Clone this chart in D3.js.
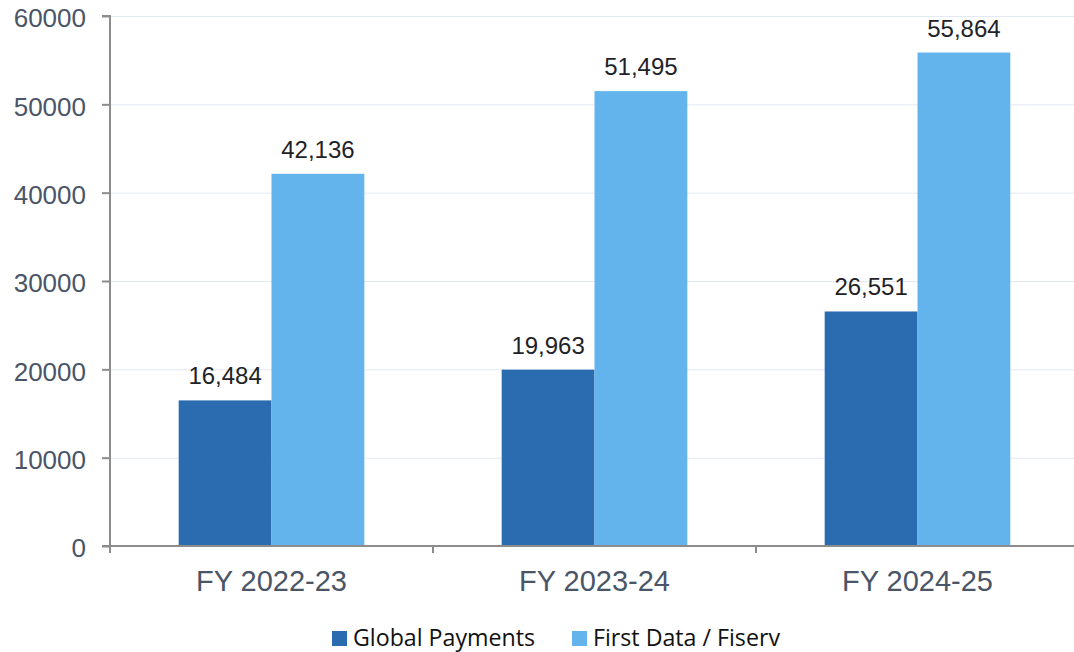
<!DOCTYPE html>
<html>
<head>
<meta charset="utf-8">
<script src="https://cdn.jsdelivr.net/npm/d3@7"></script>
<style>
  body { margin: 0; background: #fff; }
  svg { display: block; }
</style>
</head>
<body>
<div id="chart"></div>
<script>
var years = ["FY 2022-23", "FY 2023-24", "FY 2024-25"];
var seriesNames = ["Global Payments", "First Data / Fiserv"];
var globalPayments = [16484, 19963, 26551];
var firstData = [42136, 51495, 55864];
var yTicks = [0, 10000, 20000, 30000, 40000, 50000, 60000];
var colors = ["#2b6cb0", "#63b3ed"];

var width = 1074, height = 652;
var margin = {top: 16, right: -5, bottom: 106, left: 110};
var sansFont = "'Liberation Sans', Arial, sans-serif";

var svg = d3.select("#chart").append("svg")
  .attr("width", width)
  .attr("height", height);

var x = d3.scaleBand()
  .domain(years)
  .range([margin.left, width - margin.right]);

var x1 = d3.scaleBand()
  .domain(seriesNames)
  .range([0, x.bandwidth()])
  .paddingOuter(0.74);

var y = d3.scaleLinear()
  .domain([0, 60000])
  .range([height - margin.bottom, margin.top]);

// gridlines
svg.append("g")
  .selectAll("line")
  .data(yTicks.slice(1))
  .join("line")
    .attr("x1", margin.left)
    .attr("x2", width)
    .attr("y1", d => y(d) + 0.5)
    .attr("y2", d => y(d) + 0.5)
    .attr("stroke", "#e3e9f2")
    .attr("stroke-width", 1);

var rows = years.map(function(yr, i) {
  return {year: yr, values: [globalPayments[i], firstData[i]]};
});

var groups = svg.append("g")
  .selectAll("g")
  .data(rows)
  .join("g")
    .attr("transform", d => "translate(" + x(d.year) + ",0)");

groups.selectAll("rect")
  .data(d => d.values.map((v, j) => ({name: seriesNames[j], value: v, j: j})))
  .join("rect")
    .attr("x", d => x1(d.name))
    .attr("width", x1.bandwidth())
    .attr("y", d => y(d.value))
    .attr("height", d => y(0) - y(d.value))
    .attr("fill", d => colors[d.j]);

groups.selectAll("text")
  .data(d => d.values.map((v, j) => ({name: seriesNames[j], value: v})))
  .join("text")
    .attr("x", d => x1(d.name) + x1.bandwidth() / 2)
    .attr("y", d => y(d.value) - 16)
    .attr("text-anchor", "middle")
    .attr("font-family", sansFont)
    .attr("font-size", 24)
    .attr("fill", "#1f2328")
    .text(d => d3.format(",")(d.value));

// y axis
var yAxis = svg.append("g")
  .attr("transform", "translate(" + margin.left + ",0)")
  .call(d3.axisLeft(y).tickValues(yTicks).tickFormat(d3.format("d")).tickSize(8).tickPadding(16));
yAxis.select(".domain").attr("stroke", "#8c8c8c").attr("stroke-width", 2)
  .attr("d", "M-8," + y(60000) + "H0V" + y(0));
yAxis.selectAll(".tick line").attr("stroke", "#8c8c8c").attr("stroke-width", 2);
yAxis.selectAll(".tick text")
  .attr("font-family", sansFont)
  .attr("font-size", 26)
  .attr("dy", "0.42em")
  .attr("fill", "#4a5568");

// x axis
var xAxis = svg.append("g")
  .attr("transform", "translate(0," + y(0) + ")");
xAxis.append("line")
  .attr("x1", margin.left - 8)
  .attr("x2", width)
  .attr("stroke", "#8c8c8c")
  .attr("stroke-width", 2);
xAxis.selectAll(".xtick")
  .data([0, 1, 2, 3])
  .join("line")
    .attr("class", "xtick")
    .attr("x1", d => margin.left + x.step() * d)
    .attr("x2", d => margin.left + x.step() * d)
    .attr("y1", 0)
    .attr("y2", 7)
    .attr("stroke", "#8c8c8c")
    .attr("stroke-width", 2);
xAxis.selectAll("text")
  .data(years)
  .join("text")
    .attr("x", d => x(d) + x.bandwidth() / 2)
    .attr("y", 45)
    .attr("text-anchor", "middle")
    .attr("font-family", sansFont)
    .attr("font-size", 29)
    .attr("fill", "#4a5568")
    .text(d => d);

// legend
var legendX = [332, 572];
var legend = svg.append("g")
  .selectAll("g")
  .data(seriesNames)
  .join("g")
    .attr("transform", (d, i) => "translate(" + legendX[i] + ",631)");
legend.append("rect")
  .attr("width", 15)
  .attr("height", 15)
  .attr("fill", (d, i) => colors[i]);
legend.append("text")
  .attr("x", 21)
  .attr("y", 15)
  .attr("font-family", "'Open Sans', sans-serif")
  .attr("font-size", 23.2)
  .attr("fill", "#111")
  .text(d => d);
</script>
</body>
</html>
